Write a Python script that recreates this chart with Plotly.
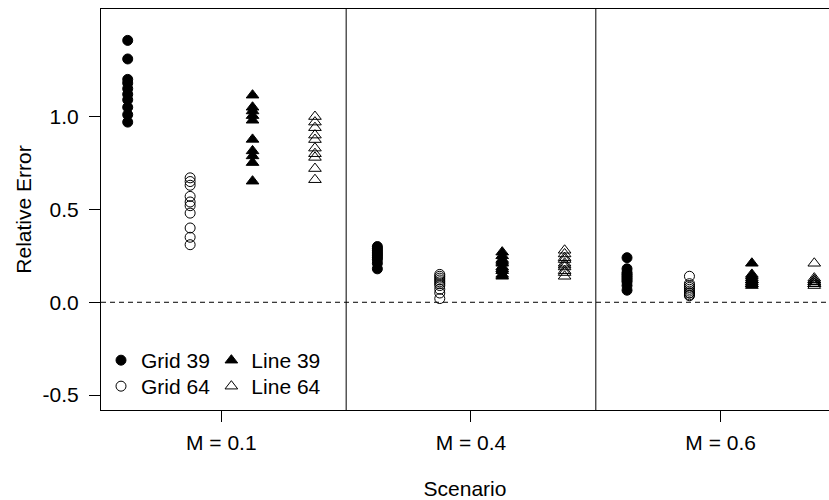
import plotly.graph_objects as go

scenarios = ["M = 0.1", "M = 0.4", "M = 0.6"]
series_names = ["Grid 39", "Grid 64", "Line 39", "Line 64"]

grid39 = [
    [1.41, 1.31, 1.20, 1.18, 1.15, 1.12, 1.09, 1.05, 1.01, 0.97],
    [0.30, 0.29, 0.28, 0.27, 0.26, 0.25, 0.24, 0.23, 0.21, 0.18],
    [0.24, 0.18, 0.16, 0.15, 0.14, 0.13, 0.12, 0.11, 0.09, 0.065],
]
grid64 = [
    [0.67, 0.65, 0.63, 0.57, 0.54, 0.52, 0.48, 0.40, 0.35, 0.31],
    [0.15, 0.14, 0.13, 0.12, 0.11, 0.10, 0.09, 0.07, 0.05, 0.02],
    [0.14, 0.10, 0.09, 0.08, 0.07, 0.06, 0.05, 0.05, 0.04, 0.035],
]
line39 = [
    [1.115, 1.05, 1.03, 1.005, 0.98, 0.877, 0.815, 0.788, 0.752, 0.652],
    [0.27, 0.25, 0.23, 0.22, 0.21, 0.19, 0.18, 0.17, 0.15, 0.14],
    [0.21, 0.15, 0.14, 0.13, 0.12, 0.12, 0.11, 0.10, 0.10, 0.09],
]
line64 = [
    [1.00, 0.97, 0.94, 0.90, 0.876, 0.83, 0.80, 0.78, 0.72, 0.66],
    [0.28, 0.26, 0.24, 0.23, 0.21, 0.20, 0.19, 0.17, 0.16, 0.14],
    [0.21, 0.13, 0.12, 0.12, 0.11, 0.11, 0.10, 0.10, 0.10, 0.09],
]

y_tickvals = [-0.5, 0.0, 0.5, 1.0]
y_ticktext = ["-0.5", "0.0", "0.5", "1.0"]

FONT = "Liberation Sans, Arial, sans-serif"
FS = 21

all_series = [grid39, grid64, line39, line64]
symbols = ["circle", "circle-open", "triangle-up", "triangle-up-open"]
sizes = [10, 10, 11, 11]
legends = ["legend", "legend2", "legend3", "legend4"]

fig = go.Figure()
for name, vals, sym, sz, lg in zip(series_names, all_series, symbols, sizes, legends):
    xs, ys = [], []
    for cat, v in zip(scenarios, vals):
        xs += [cat] * len(v)
        ys += v
    fig.add_trace(go.Scatter(
        x=xs, y=ys, mode="markers", name=name, legend=lg,
        offsetgroup=name,
        marker=dict(symbol=sym, size=sz, color="black",
                    line=dict(width=1, color="black")),
    ))

# separators between scenarios
for i in range(len(scenarios) - 1):
    fig.add_shape(type="line", xref="x", yref="paper", x0=i + 0.5, x1=i + 0.5,
                  y0=0, y1=1, line=dict(color="black", width=1))
# zero reference
fig.add_shape(type="line", xref="paper", yref="y", x0=0, x1=1, y0=0, y1=0,
              line=dict(color="black", width=1, dash="5px,4px"))

def leg(x, y):
    return dict(x=x, y=y, xanchor="left", yanchor="top",
                bgcolor="rgba(0,0,0,0)", font=dict(family=FONT, size=FS),
                itemsizing="trace")

ROW1, ROW2 = 0.1745, 0.1097
COL1, COL2 = 0.0, 0.1516

fig.update_layout(
    width=829, height=500,
    margin=dict(l=101, r=0, t=9, b=90),
    paper_bgcolor="white", plot_bgcolor="white",
    font=dict(family=FONT, size=FS, color="black"),
    scattermode="group", scattergap=0,
    showlegend=True,
    legend=leg(COL1, ROW1),
    legend2=leg(COL1, ROW2),
    legend3=leg(COL2, ROW1),
    legend4=leg(COL2, ROW2),
    xaxis=dict(
        type="category", categoryorder="array", categoryarray=scenarios,
        range=[-0.482, 2.434], showgrid=False, zeroline=False,
        showline=True, linecolor="black", linewidth=1, mirror=True,
        ticks="outside", ticklen=11, tickcolor="black",
        ticklabelstandoff=3,
        tickfont=dict(family=FONT, size=FS),
        title=dict(text="Scenario", standoff=28, font=dict(family=FONT, size=FS)),
    ),
    yaxis=dict(
        range=[-0.58, 1.579], showgrid=False, zeroline=False,
        showline=True, linecolor="black", linewidth=1,
        ticks="outside", ticklen=11, tickcolor="black",
        ticklabelstandoff=6,
        tickvals=y_tickvals, ticktext=y_ticktext,
        tickfont=dict(family=FONT, size=FS),
        title=dict(text="Relative Error", standoff=5, font=dict(family=FONT, size=FS)),
    ),
)

fig.write_html("out.html")
